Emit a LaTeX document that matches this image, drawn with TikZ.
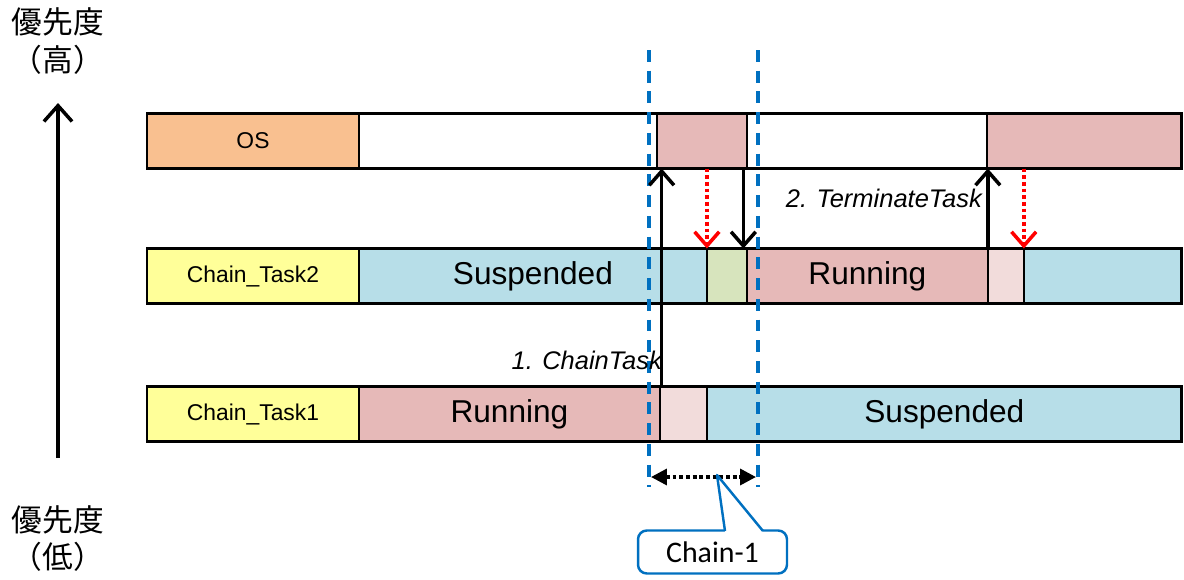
\documentclass[tikz,border=0pt]{standalone}
\usepackage{fontspec}
\setmainfont{Liberation Sans}
\newfontfamily\jpfont{Noto Sans CJK JP}
\newfontfamily\calfont{Carlito}
\usetikzlibrary{arrows.meta, positioning}

\definecolor{osorange}{HTML}{F9C090}
\definecolor{lblyellow}{HTML}{FFFF99}
\definecolor{suspblue}{HTML}{B7DEE8}
\definecolor{runred}{HTML}{E6B9B8}
\definecolor{waitpink}{HTML}{F2DCDB}
\definecolor{readygreen}{HTML}{D7E4BD}
\definecolor{markblue}{HTML}{0070C0}

\begin{document}
\begin{tikzpicture}[x=0.02cm, y=-0.02cm,
    node distance=0pt,
    seg/.style={draw=black, line width=1.5pt, minimum height=1.1cm,
      inner sep=0pt, outer sep=0pt, anchor=west,
      font=\fontsize{18}{20}\selectfont},
    lbl/.style={seg, minimum width=4.24cm, font=\fontsize{13}{15}\selectfont},
    call/.style={line width=2pt, -{Straight Barb[length=8pt,width=14pt]}},
    back/.style={red, line width=2pt, dash pattern=on 2.2pt off 1.6pt,
      -{Straight Barb[length=8pt,width=14pt]}},
    windowline/.style={markblue, line width=2pt, dash pattern=on 6.8pt off 5pt},
    prio/.style={font=\jpfont\fontsize{17.5}{20}\selectfont}]

    \useasboundingbox (0,0) rectangle (1184,579);

    % OS
    \node[lbl, fill=osorange]                  (os_lbl)  at (147,141) {OS};
    \node[seg, minimum width=5.96cm]           (os_idle) [right=of os_lbl]  {};
    \node[seg, fill=runred, minimum width=1.8cm] (os_run) [right=of os_idle] {};
    \node[seg, minimum width=4.8cm]            (os_idle2) [right=of os_run] {};
    \node[seg, fill=runred, minimum width=3.9cm] (os_run2) [right=of os_idle2] {};

    % Chain_Task2
    \node[lbl, fill=lblyellow]                 (t2_lbl)  at (147,276) {Chain\_Task2};
    \node[seg, fill=suspblue, minimum width=6.96cm] (t2_susp) [right=of t2_lbl] {Suspended};
    \node[seg, fill=readygreen, minimum width=0.8cm] (t2_rdy) [right=of t2_susp] {};
    \node[seg, fill=runred, minimum width=4.82cm] (t2_run) [right=of t2_rdy] {Running};
    \node[seg, fill=waitpink, minimum width=0.72cm] (t2_end) [right=of t2_run] {};
    \node[seg, fill=suspblue, minimum width=3.16cm] (t2_susp2) [right=of t2_end] {};

    % Chain_Task1
    \node[lbl, fill=lblyellow]                 (t1_lbl)  at (147,414) {Chain\_Task1};
    \node[seg, fill=runred, minimum width=6.02cm] (t1_run) [right=of t1_lbl] {Running};
    \node[seg, fill=waitpink, minimum width=0.94cm] (t1_end) [right=of t1_run] {};
    \node[seg, fill=suspblue, minimum width=9.5cm] (t1_susp) [right=of t1_end] {Suspended};

    % chain window
    \coordinate (mark_l) at (649,50);
    \coordinate (mark_r) at (758,50);
    \draw[windowline] (mark_l) -- ++(0,437);
    \draw[windowline] (mark_r) -- ++(0,437);

    % service calls
    \draw[call] ([xshift=1pt]t1_end.north west) -- ([xshift=1pt]t1_end.north west |- os_run.south);
    \draw[call] ([xshift=-2pt]os_run.south east) -- ([xshift=-2pt]os_run.south east |- t2_rdy.north);
    \draw[call] (t2_end.north west) -- (t2_end.north west |- os_run2.south);
    \draw[back] (t2_rdy.north west |- os_run.south) -- (t2_rdy.north west);
    \draw[back] (t2_susp2.north west |- os_run2.south) -- (t2_susp2.north west);

    \node[anchor=east, font=\itshape\fontsize{14.5}{16}\selectfont] (lbl_chain) at (668,360) {1. ChainTask};
    \node[anchor=east, font=\itshape\fontsize{14.5}{16}\selectfont] (lbl_term) at (988,198) {2. TerminateTask};

    % span + callout
    \coordinate (span_l) at (651,477);
    \coordinate (span_r) at (756,477);
    \draw[line width=2pt, dash pattern=on 2.2pt off 1.6pt,
      {Triangle[length=9pt,width=9pt]}-{Triangle[length=9pt,width=9pt]}] (span_l) -- (span_r);
    \node[draw=markblue, line width=1.4pt, fill=white, rounded corners=5pt,
      minimum width=2.98cm, minimum height=0.86cm, inner sep=0pt,
      font=\calfont\fontsize{17}{19}\selectfont] (chain1) at (712.5,552) {Chain-1};
    \coordinate (tip) at (717,475);
    \fill[white] (725,532) -- (tip) -- (763,532) -- cycle;
    \draw[markblue, line width=1.4pt, line join=round] (725,531) -- (tip) -- (763,531);

    % priority axis
    \coordinate (prio_lo) at (58,458);
    \coordinate (prio_hi) at (58,103);
    \draw[line width=2pt, -{Straight Barb[length=9pt,width=16pt]}] (prio_lo) -- (prio_hi);
    \node[prio] (hi_1) at (58,22) {優先度};
    \node[prio] (hi_2) at (58,60) {（高）};
    \node[prio] (lo_1) at (58,520) {優先度};
    \node[prio] (lo_2) at (58,557) {（低）};
\end{tikzpicture}
\end{document}
